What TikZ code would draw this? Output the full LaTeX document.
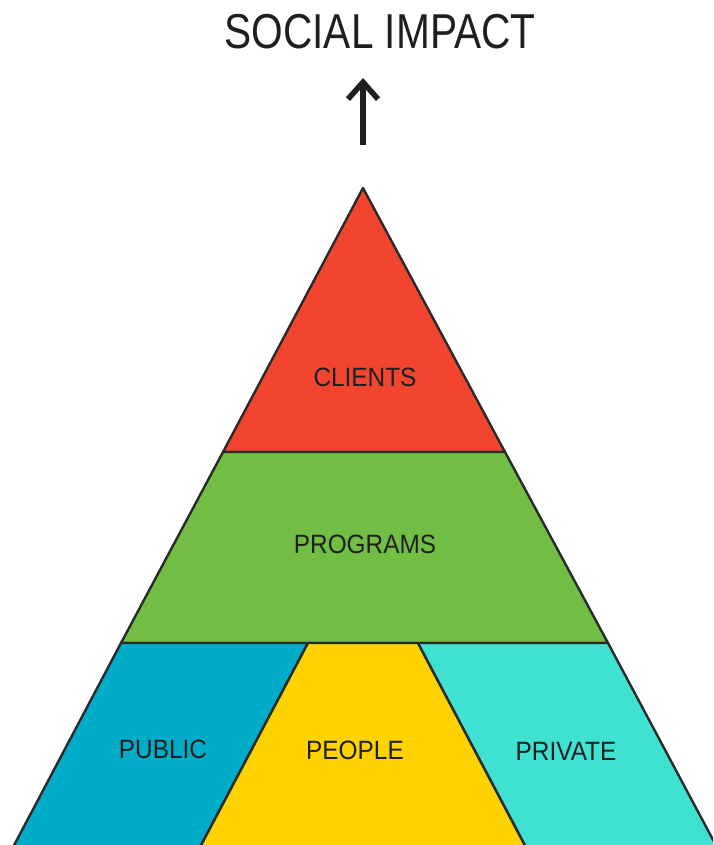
\documentclass[tikz,border=0pt]{standalone}
\usepackage{fontspec}
\setmainfont{Liberation Sans}
\newfontfamily\titlefont[FakeStretch=0.83]{Liberation Sans}
\newfontfamily\tierfont[FakeStretch=0.92]{Liberation Sans}
\usetikzlibrary{arrows.meta}

\definecolor{edge}{HTML}{2A2A2A}
\definecolor{clientred}{HTML}{F2452F}
\definecolor{programgreen}{HTML}{72BE45}
\definecolor{publicblue}{HTML}{00ACC8}
\definecolor{peopleyellow}{HTML}{FFD300}
\definecolor{privateteal}{HTML}{3FE1D1}

\begin{document}
\begin{tikzpicture}[x=1pt,y=-1pt,
  tier/.style={draw=edge,line width=2.4pt,line join=round},
  tierlabel/.style={inner sep=0pt,text=black!88,font=\tierfont\fontsize{26.5}{26.5}\selectfont},
  titlelabel/.style={inner sep=0pt,text=black!88,font=\titlefont\fontsize{49}{49}\selectfont}]
\useasboundingbox (0,0) rectangle (713,845);

% outline points of the pyramid
\coordinate (apex) at (363,188);
\coordinate (l1) at (223,452);
\coordinate (r1) at (505,452);
\coordinate (l2) at (121,643);
\coordinate (r2) at (608,643);
\coordinate (l3) at (11,851);
\coordinate (r3) at (719,851);
\coordinate (d1t) at (308,643);
\coordinate (d1b) at (198,851);
\coordinate (d2t) at (418,643);
\coordinate (d2b) at (528,851);

\begin{scope}
  \clip (0,0) rectangle (713,845);
  \draw[tier,fill=clientred] (apex) -- (l1) -- (r1) -- cycle;
  \draw[tier,fill=programgreen] (l1) -- (l2) -- (r2) -- (r1) -- cycle;
  \draw[tier,fill=publicblue] (l2) -- (l3) -- (d1b) -- (d1t) -- cycle;
  \draw[tier,fill=peopleyellow] (d1t) -- (d1b) -- (d2b) -- (d2t) -- cycle;
  \draw[tier,fill=privateteal] (d2t) -- (d2b) -- (r3) -- (r2) -- cycle;
\end{scope}

% tier labels
\node[tierlabel] (clients) at (365,377) {CLIENTS};
\node[tierlabel] (programs) at (365,544) {PROGRAMS};
\node[tierlabel] (public) at (163,749) {PUBLIC};
\node[tierlabel] (people) at (355,750) {PEOPLE};
\node[tierlabel] (private) at (566,751) {PRIVATE};

% heading and upward arrow
\node[titlelabel] (impact) at (380,32) {SOCIAL IMPACT};
\coordinate (arrowfoot) at (363,145);
\coordinate (arrowtip) at (363,78);
\draw[line width=5.5pt,draw=black!88,-{Straight Barb[length=17pt,width=30pt]}] (arrowfoot) -- (arrowtip);
\end{tikzpicture}
\end{document}
